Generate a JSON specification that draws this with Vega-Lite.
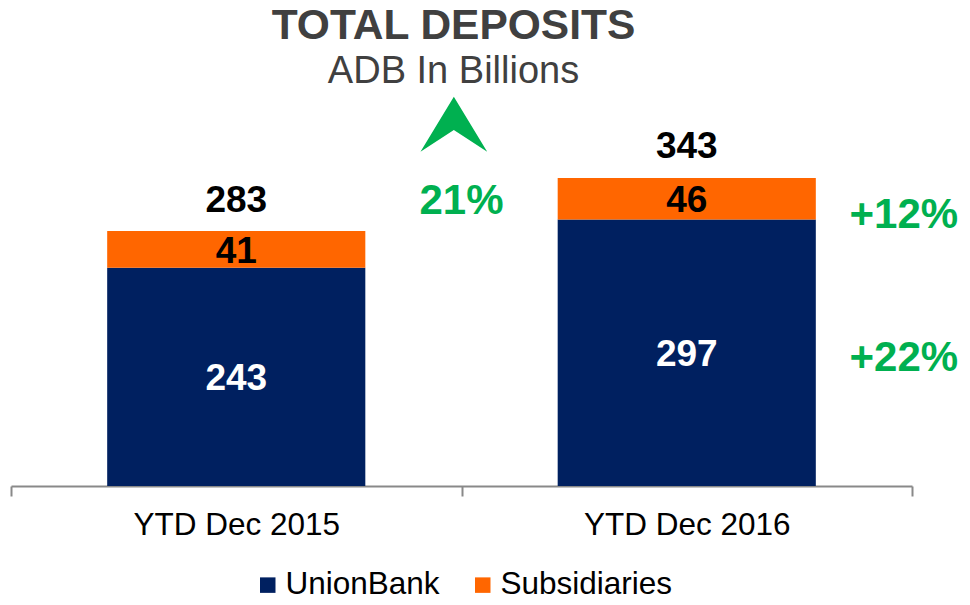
{
  "$schema": "https://vega.github.io/schema/vega-lite/v6.json",
  "width": 901,
  "height": 386,
  "autosize": {"type": "none"},
  "padding": {"left": 11, "top": 100, "right": 58, "bottom": 119},
  "background": "white",
  "config": {
    "view": {"stroke": null},
    "font": "Liberation Sans",
    "axisX": {
      "title": null,
      "labelAngle": 0,
      "labelFontSize": 31.5,
      "labelColor": "black",
      "labelFont": "Liberation Sans",
      "labelPadding": 13,
      "labelLimit": 500,
      "tickBand": "extent",
      "tickSize": 10,
      "tickColor": "#898989",
      "tickWidth": 2,
      "domainColor": "#898989",
      "domainWidth": 2,
      "grid": false
    }
  },
  "title": {
    "text": "TOTAL DEPOSITS",
    "subtitle": "ADB In Billions",
    "font": "Liberation Sans",
    "fontSize": 42.5,
    "fontWeight": "bold",
    "color": "#404040",
    "subtitleFont": "Liberation Sans",
    "subtitleFontSize": 38,
    "subtitleColor": "#404040",
    "subtitlePadding": 5,
    "anchor": "middle",
    "dx": -8,
    "offset": 6
  },
  "datasets": {
    "deposits": [
      {"period": "YTD Dec 2015", "series": "UnionBank", "value": 243},
      {"period": "YTD Dec 2015", "series": "Subsidiaries", "value": 41},
      {"period": "YTD Dec 2016", "series": "UnionBank", "value": 297},
      {"period": "YTD Dec 2016", "series": "Subsidiaries", "value": 46}
    ],
    "totals": [
      {"period": "YTD Dec 2015", "total": 283},
      {"period": "YTD Dec 2016", "total": 343}
    ],
    "growth": [
      {"period": "YTD Dec 2016", "label": "+12%", "at": 302},
      {"period": "YTD Dec 2016", "label": "+22%", "at": 143}
    ],
    "overall": [
      {"period": "YTD Dec 2015", "label": "21%", "at": 318, "arrowAt": 403}
    ]
  },
  "layer": [
    {
      "data": {"name": "deposits"},
      "mark": {"type": "bar", "width": {"band": 0.573}},
      "encoding": {
        "x": {"field": "period", "type": "nominal", "title": null, "scale": {"paddingInner": 0, "paddingOuter": 0}},
        "y": {"field": "value", "type": "quantitative", "stack": "zero", "scale": {"domain": [0, 430]}, "axis": null},
        "color": {
          "field": "series",
          "type": "nominal",
          "scale": {"domain": ["UnionBank", "Subsidiaries"], "range": ["#002060", "#FF6600"]},
          "legend": {
            "title": null,
            "orient": "none",
            "legendX": 241,
            "legendY": 469,
            "direction": "horizontal",
            "columns": 2,
            "symbolType": "square",
            "symbolSize": 240,
            "symbolStrokeWidth": 0,
            "labelFontSize": 31.5,
            "labelFont": "Liberation Sans",
            "labelColor": "black",
            "labelLimit": 300,
            "labelOffset": 2,
            "columnPadding": 27,
            "padding": 0
          }
        },
        "order": {"field": "series", "sort": "descending"}
      }
    },
    {
      "data": {"name": "deposits"},
      "transform": [
        {"stack": "value", "groupby": ["period"], "sort": [{"field": "series", "order": "descending"}], "as": ["v0", "v1"]},
        {"fold": ["v0", "v1"], "as": ["edge", "pos"]},
        {"aggregate": [{"op": "mean", "field": "pos", "as": "mid"}], "groupby": ["period", "series", "value"]}
      ],
      "mark": {"type": "text", "fontSize": 37, "fontWeight": "bold", "baseline": "middle", "align": "center", "dy": 2.5},
      "encoding": {
        "x": {"field": "period", "type": "nominal", "title": null, "scale": {"paddingInner": 0, "paddingOuter": 0}},
        "y": {"field": "mid", "type": "quantitative", "scale": {"domain": [0, 430]}, "axis": null},
        "text": {"field": "value"},
        "color": {"condition": {"test": "datum.series === 'UnionBank'", "value": "white"}, "value": "black"}
      }
    },
    {
      "data": {"name": "totals"},
      "mark": {"type": "text", "fontSize": 37, "fontWeight": "bold", "baseline": "alphabetic", "align": "center", "dy": -20, "color": "black"},
      "encoding": {
        "x": {"field": "period", "type": "nominal", "title": null, "scale": {"paddingInner": 0, "paddingOuter": 0}},
        "y": {"field": "total", "type": "quantitative", "scale": {"domain": [0, 430]}, "axis": null},
        "text": {"field": "total"}
      }
    },
    {
      "data": {"name": "growth"},
      "mark": {"type": "text", "fontSize": 42, "fontWeight": "bold", "baseline": "middle", "align": "center", "color": "#00B050"},
      "encoding": {
        "x": {"field": "period", "type": "nominal", "title": null, "bandPosition": 0.982, "scale": {"paddingInner": 0, "paddingOuter": 0}},
        "y": {"field": "at", "type": "quantitative", "scale": {"domain": [0, 430]}, "axis": null},
        "text": {"field": "label"}
      }
    },
    {
      "data": {"name": "overall"},
      "mark": {"type": "text", "fontSize": 42, "fontWeight": "bold", "baseline": "middle", "align": "center", "color": "#00B050"},
      "encoding": {
        "x": {"field": "period", "type": "nominal", "title": null, "bandPosition": 1, "scale": {"paddingInner": 0, "paddingOuter": 0}},
        "y": {"field": "at", "type": "quantitative", "scale": {"domain": [0, 430]}, "axis": null},
        "text": {"field": "label"}
      }
    },
    {
      "data": {"name": "overall"},
      "mark": {"type": "point", "shape": "M0,-0.825L1,0.825L0,0.174L-1,0.825Z", "size": 4450, "filled": true, "fill": "#00B050", "opacity": 1, "strokeWidth": 0},
      "encoding": {
        "x": {"field": "period", "type": "nominal", "title": null, "bandPosition": 0.983, "scale": {"paddingInner": 0, "paddingOuter": 0}},
        "y": {"field": "arrowAt", "type": "quantitative", "scale": {"domain": [0, 430]}, "axis": null}
      }
    }
  ]
}
